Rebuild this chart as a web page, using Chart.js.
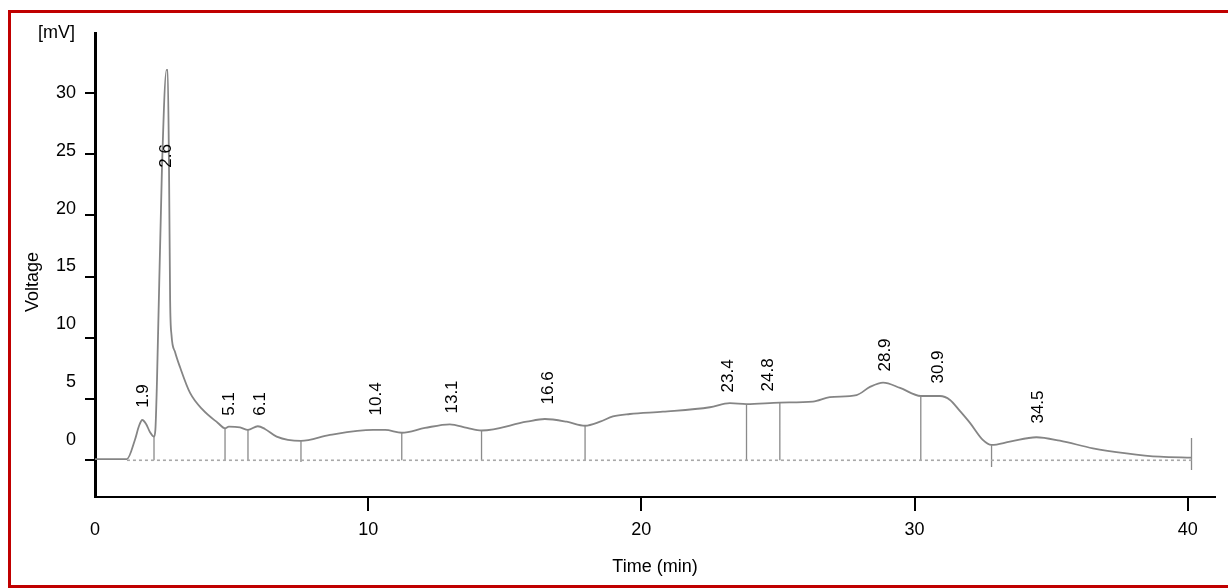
<!DOCTYPE html>
<html><head><meta charset="utf-8">
<script src="https://cdn.jsdelivr.net/npm/chart.js@4.4.1/dist/chart.umd.min.js"></script>
<style>
html,body{margin:0;padding:0;background:#fff;overflow:hidden;}
#wrap{position:relative;width:1228px;height:588px;}
#frame{position:absolute;left:8px;top:10px;width:1220px;height:578px;box-sizing:border-box;border-left:3px solid #c00000;border-top:3px solid #c00000;border-bottom:3px solid #c00000;pointer-events:none;}
canvas{display:block}
</style></head><body>
<div id="wrap"><canvas id="c" width="1228" height="588"></canvas><div id="frame"></div></div>
<script>
// Chromatogram trace (time in min, voltage in mV)
const timeMin = [0, 1.17, 1.46, 1.61, 1.73, 1.87, 2.01, 2.16, 2.21, 2.27, 2.45, 2.62, 2.66, 2.71, 2.75, 2.80, 2.93, 3.11, 3.48, 3.95, 4.50, 4.76, 4.90, 5.31, 5.60, 5.96, 6.22, 6.65, 7.54, 8.60, 10.18, 10.62, 11.23, 12.08, 12.99, 13.62, 14.15, 15.80, 16.47, 17.27, 17.94, 18.49, 18.96, 19.58, 20.79, 22.51, 23.24, 23.85, 25.07, 26.28, 26.90, 27.88, 28.37, 28.85, 29.47, 30.23, 30.93, 31.30, 31.66, 32.03, 32.50, 32.82, 33.49, 34.46, 35.32, 36.53, 37.76, 38.98, 40.14];
const voltageMV = [0.10, 0.10, 1.66, 2.80, 3.29, 2.97, 2.31, 1.93, 2.48, 6.56, 23.72, 31.89, 31.89, 23.72, 13.10, 10.24, 8.85, 7.62, 5.50, 4.11, 3.05, 2.61, 2.75, 2.68, 2.48, 2.78, 2.56, 1.93, 1.58, 2.07, 2.48, 2.48, 2.25, 2.64, 2.94, 2.64, 2.43, 3.15, 3.37, 3.15, 2.82, 3.15, 3.58, 3.78, 3.97, 4.33, 4.66, 4.58, 4.71, 4.79, 5.15, 5.33, 5.99, 6.34, 5.91, 5.25, 5.25, 4.93, 4.03, 3.05, 1.66, 1.25, 1.52, 1.88, 1.60, 0.98, 0.57, 0.29, 0.21];

// Integration drop lines
const dropTimes   = [2.16, 4.76, 5.60, 7.54, 11.23, 14.15, 17.94, 23.85, 25.07, 30.23, 32.82, 40.14];
const dropTops    = [1.93, 2.61, 2.48, 1.58, 2.25, 2.43, 2.82, 4.58, 4.71, 5.25, 1.25, 1.82];
const dropBottoms = [0, 0, 0, -0.15, 0, 0, 0, 0, 0, 0, -0.55, -0.79];

// Baseline
const baselineTimes = [1.17, 40.14];
const baselineValues = [0, 0];

// Peak labels (retention time text, anchor time, anchor voltage)
const peakLabels = ["1.9", "2.6", "5.1", "6.1", "10.4", "13.1", "16.6", "23.4", "24.8", "28.9", "30.9", "34.5"];
const peakLabelTimes = [1.76, 2.60, 4.91, 6.04, 10.29, 13.07, 16.58, 23.17, 24.63, 28.92, 30.86, 34.52];
const peakLabelVolts = [5.25, 24.86, 4.60, 4.60, 5.01, 5.17, 5.91, 6.89, 6.97, 8.60, 7.62, 4.35];

// Axis ticks
const xTickValues = [0, 10, 20, 30, 40];
const yTickValues = [0, 5, 10, 15, 20, 25, 30];

const FONT = '"Liberation Sans", Arial, sans-serif';
Chart.defaults.font.family = FONT;

const dropData = [];
dropTimes.forEach((t, i) => {
  dropData.push({x: t, y: dropTops[i]});
  dropData.push({x: t, y: dropBottoms[i]});
  dropData.push({x: t, y: null});
});

const textPlugin = {
  id: 'textPlugin',
  afterDraw(chart) {
    const ctx = chart.ctx;
    const xs = chart.scales.x, ys = chart.scales.y;
    ctx.save();
    ctx.fillStyle = '#000';
    ctx.font = '17px ' + FONT;
    ctx.textAlign = 'center';
    ctx.textBaseline = 'middle';
    peakLabels.forEach((lab, i) => {
      const px = xs.getPixelForValue(peakLabelTimes[i]);
      const py = ys.getPixelForValue(peakLabelVolts[i]);
      ctx.save();
      ctx.translate(px, py);
      ctx.rotate(-Math.PI / 2);
      ctx.fillText(lab, 0, 0);
      ctx.restore();
    });
    ctx.font = '18px ' + FONT;
    ctx.textAlign = 'right';
    ctx.fillText('[mV]', 75, 33);
    ctx.save();
    ctx.translate(33, 282);
    ctx.rotate(-Math.PI / 2);
    ctx.textAlign = 'center';
    ctx.fillText('Voltage', 0, 0);
    ctx.restore();
    ctx.restore();
  }
};

new Chart(document.getElementById('c'), {
  type: 'line',
  data: {
    datasets: [
      {
        label: 'Baseline',
        data: baselineTimes.map((t, i) => ({x: t, y: baselineValues[i]})),
        borderColor: '#a8a8a8',
        borderWidth: 1.6,
        borderDash: [3, 3],
        pointRadius: 0,
        xAxisID: 'x', yAxisID: 'y'
      },
      {
        label: 'Drops',
        data: dropData,
        borderColor: '#8a8a8a',
        borderWidth: 1.3,
        pointRadius: 0,
        spanGaps: false,
        tension: 0,
        xAxisID: 'x', yAxisID: 'y'
      },
      {
        label: 'Signal',
        data: timeMin.map((t, i) => ({x: t, y: voltageMV[i]})),
        borderColor: '#858585',
        borderWidth: 1.8,
        pointRadius: 0,
        cubicInterpolationMode: 'monotone',
        xAxisID: 'x', yAxisID: 'y'
      }
    ]
  },
  options: {
    responsive: false,
    animation: false,
    devicePixelRatio: 1,
    layout: {padding: {left: 0, top: 33, right: 13, bottom: 0}},
    plugins: {legend: {display: false}, tooltip: {enabled: false}},
    scales: {
      x: {
        type: 'linear', position: 'bottom', min: 0, max: 41.0,
        afterBuildTicks: s => { s.ticks = xTickValues.map(v => ({value: v})); },
        afterFit: s => { s.height = 91; },
        ticks: {font: {size: 18}, color: '#000', padding: 8, maxRotation: 0, autoSkip: false},
        grid: {drawOnChartArea: false, drawTicks: true, tickLength: 14, lineWidth: 2,
               color: c => (c.tick && c.tick.value === 0) ? 'rgba(0,0,0,0)' : '#000'},
        border: {display: true, color: '#000', width: 2},
        title: {display: true, text: 'Time (min)', font: {size: 18}, color: '#000', padding: {top: 0, bottom: 10}}
      },
      y: {
        type: 'linear', position: 'left', weight: 0, min: -3.0, max: 34.9,
        afterBuildTicks: s => { s.ticks = yTickValues.map(v => ({value: v})); },
        afterFit: s => { s.width = 10; },
        ticks: {display: false},
        grid: {drawOnChartArea: false, drawTicks: true, tickLength: 10, lineWidth: 2, color: '#000'},
        border: {display: true, color: '#000', width: 3}
      },
      yl: {
        type: 'linear', position: 'left', weight: 1, min: -4.93, max: 35.19,
        afterBuildTicks: s => { s.ticks = yTickValues.map(v => ({value: v})); },
        afterFit: s => { s.width = 85; },
        ticks: {font: {size: 18}, color: '#000', padding: 9},
        grid: {display: false, drawTicks: false},
        border: {display: false}
      }
    }
  },
  plugins: [textPlugin]
});
</script>
</body></html>
